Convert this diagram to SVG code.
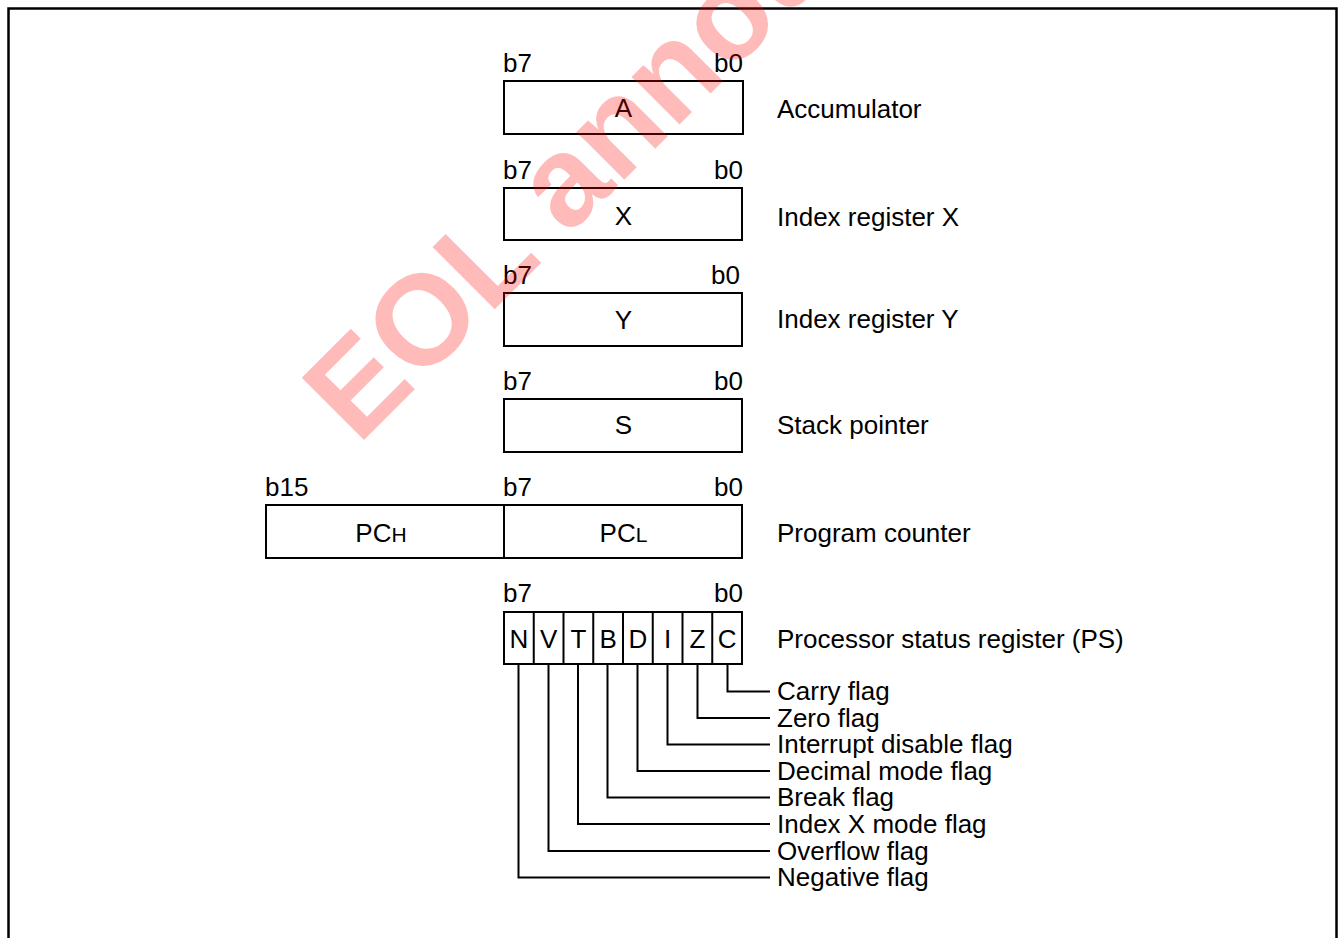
<svg xmlns="http://www.w3.org/2000/svg" width="1339" height="938" viewBox="0 0 1339 938">
<style>
.box{fill:#fff;stroke:#000;stroke-width:2}
.t{font-family:"Liberation Sans",Arial,Helvetica,sans-serif;font-size:26px;fill:#000}
.c{text-anchor:middle}
.r{text-anchor:end}
.wire{fill:none;stroke:#000;stroke-width:2}
.frame{fill:none;stroke:#000;stroke-width:2.5}
.wm{font-family:"Liberation Sans",Arial,sans-serif;font-weight:bold;font-size:128px;fill:#ff0000;fill-opacity:0.27}
</style>
<rect x="0" y="0" width="1339" height="938" fill="#fff"/>
<path class="frame" d="M8.5,945 V8.5 H1336.5 V945"/>

<g id="reg-a">
<text class="t" x="503" y="72">b7</text>
<text class="t r" x="743" y="72">b0</text>
<rect class="box" x="504" y="81" width="239" height="53"/>
<text class="t c" x="623.5" y="117">A</text>
<text class="t" x="777" y="118">Accumulator</text>
</g>

<g id="reg-x">
<text class="t" x="503" y="179">b7</text>
<text class="t r" x="743" y="179">b0</text>
<rect class="box" x="504" y="188" width="238" height="52"/>
<text class="t c" x="623.5" y="225">X</text>
<text class="t" x="777" y="226">Index register X</text>
</g>

<g id="reg-y">
<text class="t" x="503" y="284">b7</text>
<text class="t r" x="740" y="284">b0</text>
<rect class="box" x="504" y="293" width="238" height="53"/>
<text class="t c" x="623.5" y="329">Y</text>
<text class="t" x="777" y="328">Index register Y</text>
</g>

<g id="reg-s">
<text class="t" x="503" y="390">b7</text>
<text class="t r" x="743" y="390">b0</text>
<rect class="box" x="504" y="399" width="238" height="53"/>
<text class="t c" x="623.5" y="434">S</text>
<text class="t" x="777" y="434">Stack pointer</text>
</g>

<g id="reg-pc">
<text class="t" x="265" y="496">b15</text>
<text class="t" x="503" y="496">b7</text>
<text class="t r" x="743" y="496">b0</text>
<rect class="box" x="266" y="505" width="476" height="53"/>
<line class="wire" x1="504" y1="505" x2="504" y2="558"/>
<text class="t c" x="381" y="542">PC<tspan font-size="21">H</tspan></text>
<text class="t c" x="623.5" y="542">PC<tspan font-size="21">L</tspan></text>
<text class="t" x="777" y="542">Program counter</text>
</g>

<g id="reg-ps">
<text class="t" x="503" y="602">b7</text>
<text class="t r" x="743" y="602">b0</text>
<rect class="box" x="504" y="612" width="238" height="52"/>
<path class="wire" d="M533.75,612V664M563.5,612V664M593.25,612V664M623,612V664M652.75,612V664M682.5,612V664M712.25,612V664"/>
<text class="t c" x="518.9" y="648">N</text>
<text class="t c" x="548.6" y="648">V</text>
<text class="t c" x="578.4" y="648">T</text>
<text class="t c" x="608.1" y="648">B</text>
<text class="t c" x="637.9" y="648">D</text>
<text class="t c" x="667.6" y="648">I</text>
<text class="t c" x="697.4" y="648">Z</text>
<text class="t c" x="727.1" y="648">C</text>
<text class="t" x="777" y="648">Processor status register (PS)</text>
</g>

<g id="connectors">
<path class="wire" d="M727.5,664V691.5H770"/>
<path class="wire" d="M697.5,664V718H770"/>
<path class="wire" d="M667.5,664V744.5H770"/>
<path class="wire" d="M637.5,664V771H770"/>
<path class="wire" d="M607.5,664V797.5H770"/>
<path class="wire" d="M578,664V824H770"/>
<path class="wire" d="M548.5,664V851H770"/>
<path class="wire" d="M518.5,664V877.5H770"/>
</g>

<g id="flag-labels">
<text class="t" x="777" y="700">Carry flag</text>
<text class="t" x="777" y="727">Zero flag</text>
<text class="t" x="777" y="753">Interrupt disable flag</text>
<text class="t" x="777" y="780">Decimal mode flag</text>
<text class="t" x="777" y="806">Break flag</text>
<text class="t" x="777" y="833">Index X mode flag</text>
<text class="t" x="777" y="860">Overflow flag</text>
<text class="t" x="777" y="886">Negative flag</text>
</g>

<g id="watermark">
<text class="wm" x="0" y="0" transform="translate(358,446) rotate(-45)">EOL announced</text>
</g>
</svg>
